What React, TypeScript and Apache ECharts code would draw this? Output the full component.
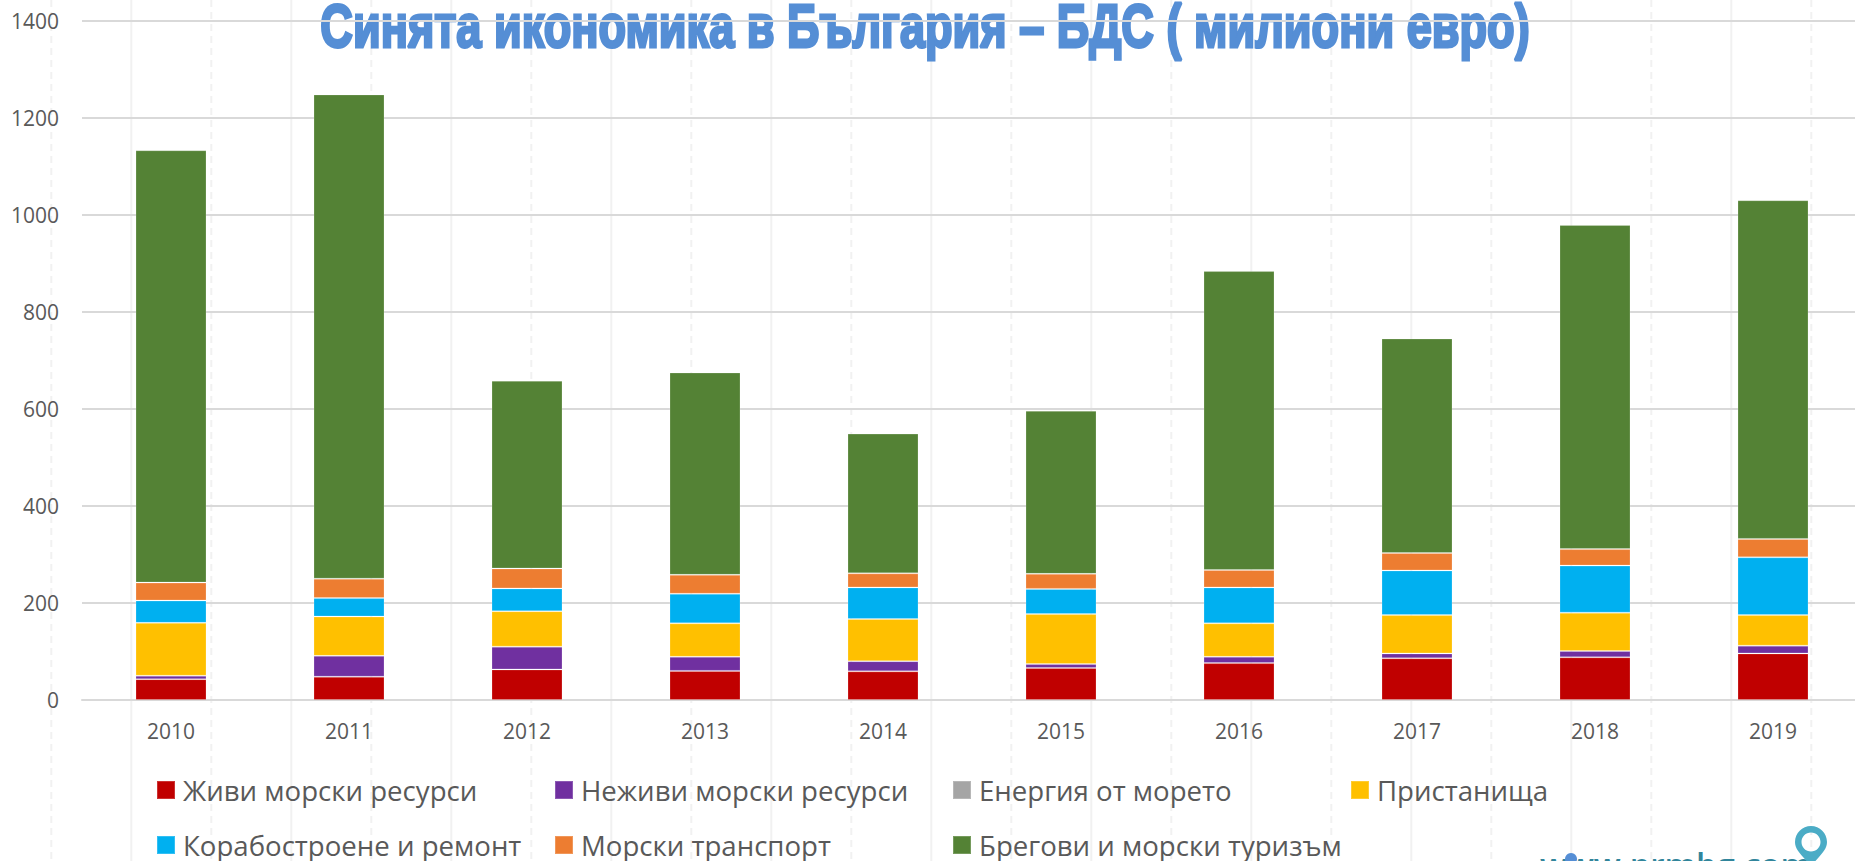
import React, { useEffect, useRef } from "react";
import * as echarts from "echarts";

const years = ["2010", "2011", "2012", "2013", "2014", "2015", "2016", "2017", "2018", "2019"];
const titleText = "Синята икономика в България – БДС ( милиони евро)";
const siteText = "www.prmbg.com";
const live = [43, 48, 63, 60, 59, 66, 76, 86, 88, 96];
const nonLive = [7, 43, 47, 29, 21, 8, 13, 10, 13, 16];
const energy = [null, null, null, null, null, null, null, null, null, null];
const ports = [109, 81, 73, 69, 87, 103, 69, 79, 79, 63];
const ships = [46, 38, 47, 61, 65, 52, 74, 92, 97, 119];
const transport = [37, 40, 41, 39, 29, 31, 36, 36, 34, 38];
const tourism = [891, 998, 387, 417, 288, 336, 616, 442, 668, 698];

const seriesDefs = [
  { name: "Живи морски ресурси", data: live, color: "#C00000" },
  { name: "Неживи морски ресурси", data: nonLive, color: "#7030A0" },
  { name: "Енергия от морето", data: energy, color: "#A5A5A5" },
  { name: "Пристанища", data: ports, color: "#FFC000" },
  { name: "Корабостроене и ремонт", data: ships, color: "#00B0F0" },
  { name: "Морски транспорт", data: transport, color: "#ED7D31" },
  { name: "Брегови и морски туризъм", data: tourism, color: "#548235" },
];

const FONT = "'Open Sans', 'Noto Sans', sans-serif";
const GREY = "#595959";

echarts.graphic.registerShape(
  "pin",
  echarts.graphic.extendPath(
    "M16 0C7.2 0 0 7.2 0 16c0 6 4 10.5 8 15l8 9 8-9c4-4.5 8-9 8-15C32 7.2 24.8 0 16 0zM16 6.5c5.3 0 9.5 4.2 9.5 9.5s-4.2 9.5-9.5 9.5S6.5 21.3 6.5 16 10.7 6.5 16 6.5z",
    {}
  )
);

function backgroundLines() {
  const out: any[] = [];
  for (let k = 0; k < 23; k++) {
    const x = 51.3 + 80 * k;
    const dashed = k % 2 === 0;
    out.push({
      type: "line",
      z: -10,
      silent: true,
      shape: { x1: x, y1: 0, x2: x, y2: 861 },
      style: { stroke: "#F1F1F1", lineWidth: 2, lineDash: dashed ? [7, 5] : undefined },
    });
  }
  return out;
}

export default function App() {
  const ref = useRef<HTMLDivElement>(null);
  useEffect(() => {
    document.body.style.margin = "0";
    const chart = echarts.init(ref.current!, undefined, { renderer: "svg" });
    chart.setOption({
      animation: false,
      backgroundColor: "#FFFFFF",
      grid: { left: 82, top: 20.7, width: 1780, height: 679.3, containLabel: false },
      legend: seriesDefs.map((s, i) => ({
        data: [s.name],
        left: 156 + 398 * (i % 4),
        top: i < 4 ? 775 : 830,
        itemWidth: 18,
        itemHeight: 18,
        itemGap: 0,
        icon: "rect",
        padding: 0,
        selectedMode: false,
        textStyle: { fontFamily: FONT, fontSize: 27.6, lineHeight: 30, color: GREY, padding: [0, 0, 0, 3] },
      })),
      xAxis: {
        type: "category",
        data: years,
        axisLine: { lineStyle: { color: "#D9D9D9", width: 2 } },
        axisTick: { show: false },
        axisLabel: { fontFamily: FONT, fontSize: 21, color: GREY, margin: 20 },
      },
      yAxis: {
        type: "value",
        min: 0,
        max: 1400,
        interval: 200,
        axisLine: { show: false },
        axisTick: { show: false },
        axisLabel: { fontFamily: FONT, fontSize: 21, color: GREY, margin: 23, formatter: (v: number) => String(v) },
        splitLine: { lineStyle: { color: "#D9D9D9", width: 2 } },
      },
      series: seriesDefs.map((s) => ({
        type: "bar",
        name: s.name,
        stack: "total",
        data: s.data,
        barWidth: 71,
        itemStyle: { color: s.color, borderColor: "rgba(255,255,255,0.2)", borderWidth: 1 },
      })),
      graphic: [
        ...backgroundLines(),
        {
          type: "text",
          z: -5,
          x: 925,
          y: 25,
          scaleX: 0.74,
          style: {
            text: titleText,
            fontFamily: "'Liberation Sans', sans-serif",
            fontWeight: "bold",
            fontSize: 61,
            fill: "#558ED5",
            stroke: "#558ED5",
            lineWidth: 3,
            textAlign: "center",
            textVerticalAlign: "middle",
          },
        },
        {
          type: "text",
          x: 1540,
          y: 881,
          style: {
            text: siteText,
            fontFamily: FONT,
            fontWeight: 600,
            fontSize: 33,
            fill: "#31859B",
            textAlign: "left",
            textVerticalAlign: "bottom",
          },
        },
        { type: "circle", shape: { cx: 1571, cy: 859, r: 6 }, style: { fill: "#558ED5" } },
        { type: "pin", x: 1795, y: 826, style: { fill: "#4BACC6" } },
      ],
    });
    return () => chart.dispose();
  }, []);
  return (
    <div style={{ position: "absolute", left: 0, top: 0, width: 1855, height: 861, overflow: "hidden" }}>
      <div ref={ref} style={{ width: 1870, height: 861 }} />
    </div>
  );
}
